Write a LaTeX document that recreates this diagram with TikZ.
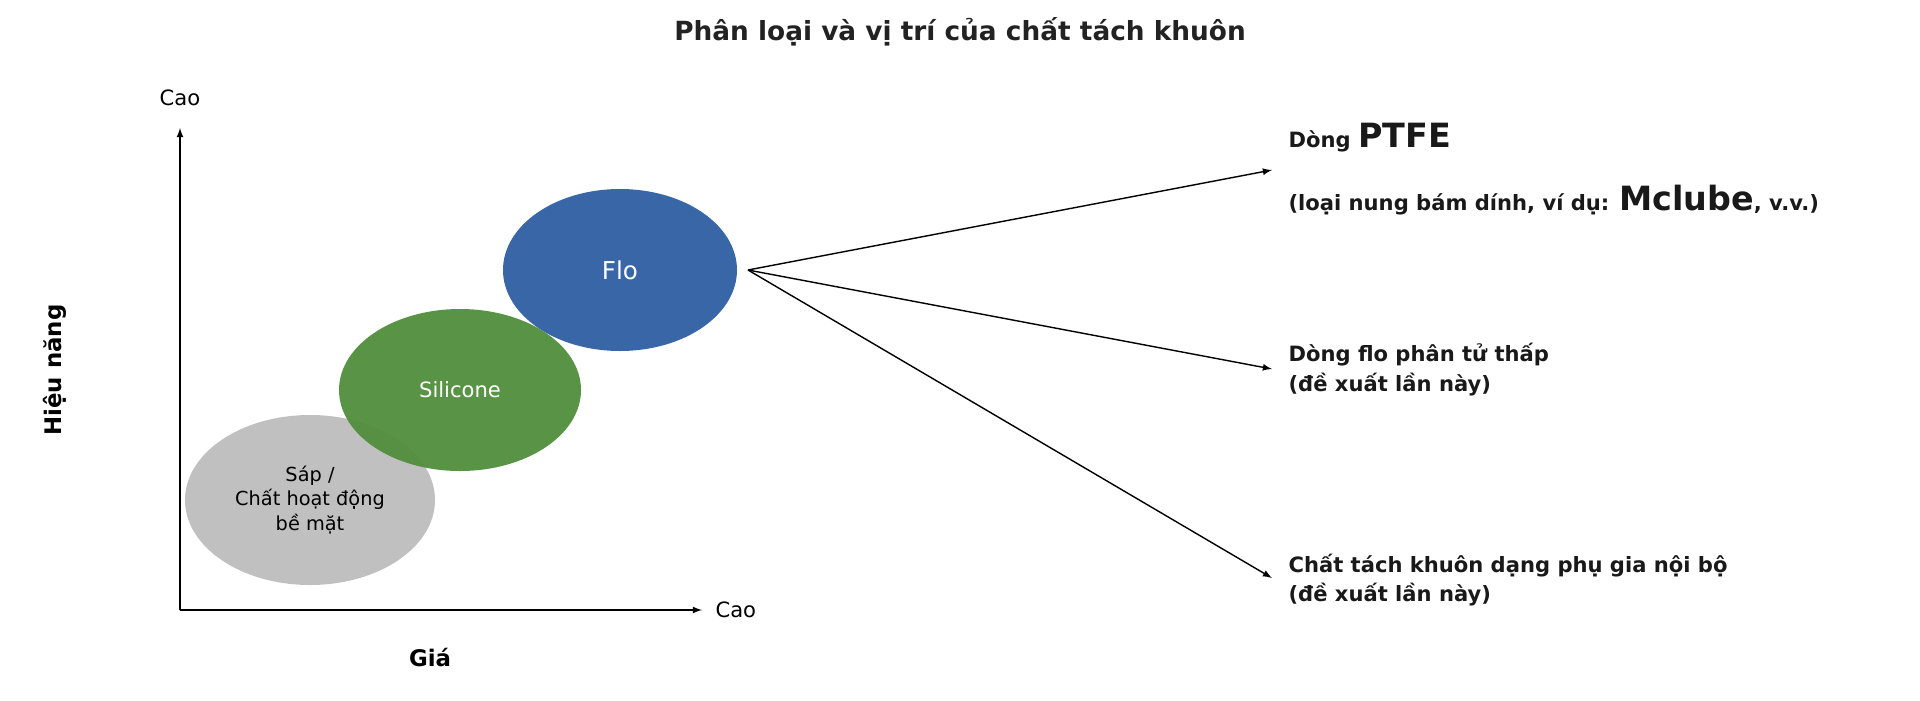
\documentclass[tikz,border=0pt]{standalone}
\usepackage{fontspec}
\setmainfont{DejaVu Sans}
\usepackage{tikz}
\definecolor{waxgray}{HTML}{C0C0C0}
\definecolor{silgreen}{HTML}{548F3F}
\definecolor{floblue}{HTML}{3866A6}
\definecolor{titlegray}{HTML}{222222}
\usetikzlibrary{positioning}

\begin{document}
\begin{tikzpicture}[x=0.02cm,y=-0.02cm,thick,
    blob/.style={ellipse,minimum width=#1},
    axislabel/.style={font=\fontsize{12}{14}\selectfont},
    note/.style={anchor=west,align=left,font=\bfseries\fontsize{12}{17}\selectfont,text=black!90}
]
\useasboundingbox (0,0) rectangle (1920,700);
\node[font=\bfseries\fontsize{15}{18}\selectfont,text=titlegray] (title) at (960,32) {Phân loại và vị trí của chất tách khuôn};
% axes
\coordinate (origin) at (180,610);
\coordinate (ytop) at (180,128);
\coordinate (xend) at (702,610);
\draw[-latex] (origin) -- (ytop);
\draw[-latex] (origin) -- (xend);
\node[axislabel] (ycao) at (180,98) {Cao};
\node[axislabel,right=4pt of xend] (xcao) {Cao};
\node[font=\bfseries\fontsize{13}{15}\selectfont,rotate=90] (yname) at (55,370) {Hiệu năng};
\node[font=\bfseries\fontsize{13}{15}\selectfont] (xname) at (430,658) {Giá};
% classes
\fill[waxgray] (310,500) ellipse (125 and 85);
\node[align=center,font=\fontsize{11}{14}\selectfont] (wax) at (310,500) {Sáp /\\Chất hoạt động\\bề mặt};
\fill[silgreen,opacity=0.97] (460,390) ellipse (121 and 81);
\node[text=white,font=\fontsize{12}{14}\selectfont] (silicone) at (460,390) {Silicone};
\fill[floblue] (620,270) ellipse (117 and 81);
\node[text=white,font=\fontsize{14}{16}\selectfont] (flo) at (620,270) {Flo};
% branches
\coordinate (src) at (748,270);
\coordinate (ptfe) at (1272,170);
\coordinate (lowmol) at (1272,369);
\coordinate (internal) at (1272,578);
\draw[-latex] (src) -- (ptfe);
\draw[-latex] (src) -- (lowmol);
\draw[-latex] (src) -- (internal);
\node[note] (ptfetext) at (1282,138) {Dòng {\fontsize{19}{20}\selectfont PTFE}};
\node[note] (ptfeex) at (1282,200) {(loại nung bám dính, ví dụ: {\fontsize{19}{20}\selectfont Mclube}, v.v.)};
\node[note] (lowmoltext) at (1282,370) {Dòng flo phân tử thấp\\(đề xuất lần này)};
\node[note] (internaltext) at (1282,580) {Chất tách khuôn dạng phụ gia nội bộ\\(đề xuất lần này)};
\end{tikzpicture}
\end{document}
